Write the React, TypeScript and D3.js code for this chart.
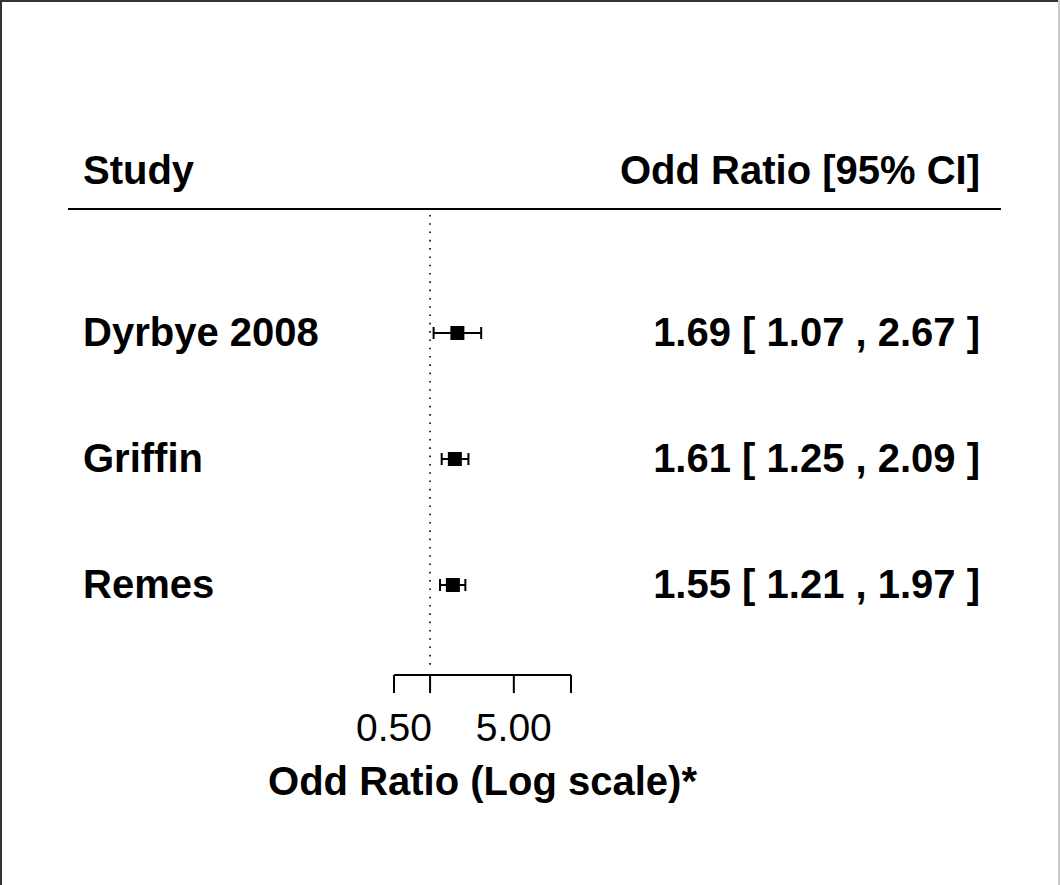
import React from "react";
import * as d3 from "d3";

const studies = ["Dyrbye 2008", "Griffin", "Remes"];
const estimates = [1.69, 1.61, 1.55];
const lower = [1.07, 1.25, 1.21];
const upper = [2.67, 2.09, 1.97];
const rows = [3, 2, 1];
const tickValues = [0.5, 1, 5, 15];
const tickLabels = ["0.50", "", "5.00", ""];
const headerLeft = "Study";
const headerRight = "Odd Ratio [95% CI]";
const xLabel = "Odd Ratio (Log scale)*";

const W = 1060;
const H = 885;
const FONT = "'Liberation Sans', Arial, Helvetica, sans-serif";

export default function App() {
  const x = d3.scaleLog().domain([0.5, 15]).range([394, 571]);
  const y = d3.scaleLinear().domain([3, 1]).range([333, 585]);
  const fmt = d3.format(".2f");

  const textLeft = 83;
  const textRight = 980;
  const headerY = y(4.29);
  const lineY = y(3.985);
  const axisY = y(0.285);
  const refX = x(1);
  const sq = 14;
  const cap = 6;

  return (
    <svg
      width={W}
      height={H}
      style={{ position: "absolute", left: 0, top: 0, background: "#fff" }}
      fontFamily={FONT}
    >
      <rect x={0} y={0} width={W} height={H} fill="#fff" />
      {/* frame */}
      <line x1={0} y1={1} x2={W} y2={1} stroke="#333" strokeWidth={2} />
      <line x1={1} y1={0} x2={1} y2={H} stroke="#333" strokeWidth={2} />
      <line x1={W - 1} y1={0} x2={W - 1} y2={H} stroke="#ccc" strokeWidth={2} />

      {/* headers */}
      <text x={textLeft} y={headerY + 14} fontSize={40} fontWeight="bold" fill="#000">
        {headerLeft}
      </text>
      <text
        x={textRight}
        y={headerY + 14}
        fontSize={40}
        fontWeight="bold"
        textAnchor="end"
        fill="#000"
      >
        {headerRight}
      </text>
      <line x1={68} y1={lineY} x2={1001} y2={lineY} stroke="#000" strokeWidth={2} />

      {/* reference line */}
      <line
        x1={refX}
        y1={lineY + 6}
        x2={refX}
        y2={axisY - 10}
        stroke="#000"
        strokeWidth={1.6}
        strokeDasharray="1.6 6.7"
      />

      {/* studies */}
      {studies.map((s, i) => {
        const cy = y(rows[i]);
        const xl = x(lower[i]);
        const xu = x(upper[i]);
        const xe = x(estimates[i]);
        return (
          <g key={s}>
            <text x={textLeft} y={cy + 13} fontSize={40} fontWeight="bold" fill="#000">
              {s}
            </text>
            <text
              x={textRight}
              y={cy + 13}
              fontSize={40}
              fontWeight="bold"
              textAnchor="end"
              fill="#000"
            >
              {`${fmt(estimates[i])} [ ${fmt(lower[i])} , ${fmt(upper[i])} ]`}
            </text>
            <line x1={xl} y1={cy} x2={xu} y2={cy} stroke="#000" strokeWidth={2} />
            <line x1={xl} y1={cy - cap} x2={xl} y2={cy + cap} stroke="#000" strokeWidth={2} />
            <line x1={xu} y1={cy - cap} x2={xu} y2={cy + cap} stroke="#000" strokeWidth={2} />
            <rect x={xe - sq / 2} y={cy - sq / 2} width={sq} height={sq} fill="#000" />
          </g>
        );
      })}

      {/* axis */}
      <line
        x1={x(tickValues[0])}
        y1={axisY}
        x2={x(tickValues[tickValues.length - 1])}
        y2={axisY}
        stroke="#000"
        strokeWidth={2}
      />
      {tickValues.map((t, i) => (
        <g key={t}>
          <line x1={x(t)} y1={axisY} x2={x(t)} y2={axisY + 18} stroke="#000" strokeWidth={2} />
          {tickLabels[i] && (
            <text x={x(t)} y={axisY + 66} fontSize={39} textAnchor="middle" fill="#000">
              {tickLabels[i]}
            </text>
          )}
        </g>
      ))}
      <text
        x={(x.range()[0] + x.range()[1]) / 2}
        y={axisY + 120}
        fontSize={40}
        fontWeight="bold"
        textAnchor="middle"
        fill="#000"
      >
        {xLabel}
      </text>
    </svg>
  );
}
